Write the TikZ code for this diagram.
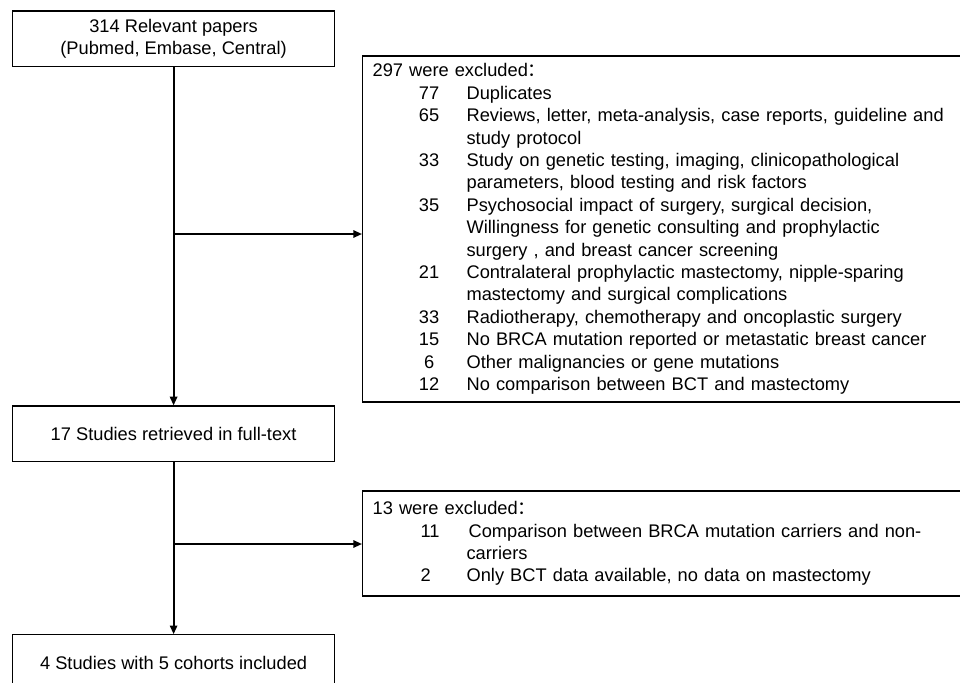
\documentclass[tikz,border=0pt]{standalone}
\usepackage{fontspec}
\setmainfont{Liberation Sans}
\newfontfamily\cjk{Noto Sans CJK SC}
\usepackage{tikz}
\usetikzlibrary{arrows.meta}

% one excluded reason: number, then text
\newcommand{\reason}[3][c]{\hspace*{36pt}\makebox[12.75pt][#1]{#2}\hspace*{21.75pt}#3}
\newcommand{\wrapline}[1]{\hspace*{70.5pt}#1}

\begin{document}
\begin{tikzpicture}
	[x=0.75pt, y=-0.75pt, >={Triangle[length=6.5pt, width=5.5pt]},
	every node/.style={font=\fontsize{13.7}{16.8}\selectfont},
	stage/.style={draw, line width=0.9pt, minimum width=241.4pt, minimum height=41.6pt, align=center, inner sep=0pt},
	reasons/.style={draw, line width=0.9pt, minimum width=463.5pt, text width=448.5pt, inner xsep=7.5pt, inner ysep=0pt, align=left, anchor=west},
	flow/.style={->, line width=1.4pt}]
	\useasboundingbox (0,0) rectangle (960,682);
	\clip (0,0) rectangle (960,682);

	\node (papers) [stage, minimum height=41.8pt] at (173.6,38.9) {314 Relevant papers\\(Pubmed, Embase, Central)};
	\node (fulltext) [stage] at (173.6,433.7) {17 Studies retrieved in full-text}
		edge [flow, <-] (papers);
	\node (included) [stage] at (173.6,662.5) {4 Studies with 5 cohorts included}
		edge [flow, <-] (fulltext);

	\node (excl1) [reasons, minimum height=259.5pt] at (362,229) {%
		297 were excluded{\cjk ：}\\
		\reason{77}{Duplicates}\\
		\reason{65}{Reviews, letter, meta-analysis, case reports, guideline and}\\
		\wrapline{study protocol}\\
		\reason{33}{Study on genetic testing, imaging, clinicopathological}\\
		\wrapline{parameters, blood testing and risk factors}\\
		\reason{35}{Psychosocial impact of surgery, surgical decision,}\\
		\wrapline{Willingness for genetic consulting and prophylactic}\\
		\wrapline{surgery , and breast cancer screening}\\
		\reason{21}{Contralateral prophylactic mastectomy, nipple-sparing}\\
		\wrapline{mastectomy and surgical complications}\\
		\reason{33}{Radiotherapy, chemotherapy and oncoplastic surgery}\\
		\reason{15}{No BRCA mutation reported or metastatic breast cancer}\\
		\reason{6}{Other malignancies or gene mutations}\\
		\reason{12}{No comparison between BCT and mastectomy}};
	\node (excl2) [reasons, minimum height=78.75pt] at (362,543.5) {%
		13 were excluded{\cjk ：}\\
		\reason[l]{11}{\hspace*{1.5pt}Comparison between BRCA mutation carriers and non-}\\
		\wrapline{carriers}\\
		\reason[l]{2}{Only BCT data available, no data on mastectomy}};

	\coordinate (split1) at (173.6,234);
	\coordinate (split2) at (173.6,544);
	\draw [flow] (split1) -- (split1 -| excl1.west);
	\draw [flow] (split2) -- (split2 -| excl2.west);
\end{tikzpicture}
\end{document}
